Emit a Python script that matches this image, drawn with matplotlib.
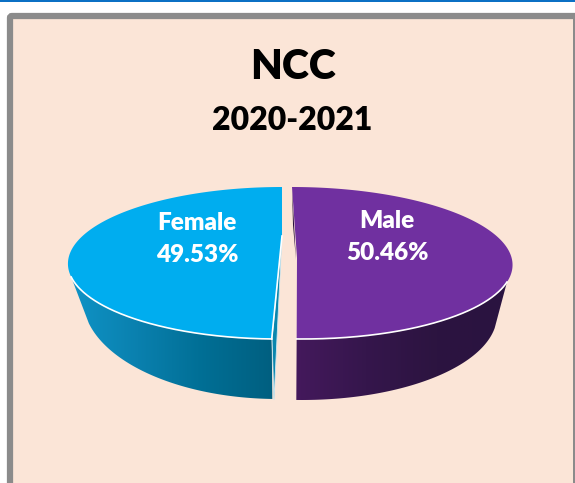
import numpy as np
import matplotlib
matplotlib.use("Agg")
import matplotlib.pyplot as plt
from matplotlib.patches import Polygon, Rectangle, FancyBboxPatch
from matplotlib.colors import LinearSegmentedColormap

plt.rcParams['font.family'] = ['Lato', 'DejaVu Sans']

title = "NCC"
subtitle = "2020-2021"
labels = ["Female", "Male"]
shares = [49.53, 50.46]
top_colors = ["#00adef", "#7030a0"]
side_colors = [["#0f93c6", "#0a80ae", "#006e94", "#005f80"], ["#44195c", "#35164c", "#2c1440", "#2a1340"]]

fig = plt.figure(figsize=(5.75, 4.83), dpi=100)
ax = fig.add_axes([0, 0, 1, 1])
ax.set_xlim(0, 575)
ax.set_ylim(483, 0)
ax.axis("off")

# page and frame
ax.add_patch(Rectangle((0, 0), 575, 2, fc="#0b70c4", ec="none"))
ax.add_patch(FancyBboxPatch((10, 16), 600, 600, boxstyle="round,pad=0,rounding_size=2",
                            fc="#fbe5d7", ec="#8b8b8b", lw=4.5))
ax.add_patch(Rectangle((572.5, 14), 3, 470, fc="#8b8b8b", ec="none"))

ax.text(293, 67, title, ha="center", va="center", fontsize=29.5, fontweight="heavy", color="black")
ax.text(292.5, 120, subtitle, ha="center", va="center", fontsize=23, fontweight="heavy", color="black")


def arc(a0, a1, cx, cy, rx, ry, shear, y0):
    t = np.radians(np.linspace(a0, a1, 200))
    x = cx + rx * np.cos(t)
    y = cy - ry * np.sin(t)
    return np.column_stack([x + shear * (y - y0), y])


def gradient_side(poly, colors):
    cmap = LinearSegmentedColormap.from_list("side", colors)
    patch = Polygon(poly, closed=True, fc="none", ec="none")
    ax.add_patch(patch)
    xs = poly[:, 0]
    im = ax.imshow(np.linspace(0, 1, 256)[None, :], cmap=cmap, aspect="auto",
                   extent=[xs.min(), xs.max(), poly[:, 1].max(), poly[:, 1].min()], zorder=2)
    im.set_clip_path(patch)
    ax.set_xlim(0, 575)
    ax.set_ylim(483, 0)


# female slice, sweep comes from its share
sweep_f = 360 * shares[0] / sum(shares)
top_f = arc(90, 90 + sweep_f, 282, 263, 212, 76, -0.027, 187)
front_f = arc(190.6, 90 + sweep_f, 282, 263, 212, 76, -0.027, 187)
low_f = arc(194, 90 + sweep_f, 278, 299, 195, 100, 0.0, 187)
side_f = np.vstack([front_f, low_f[::-1]])
gradient_side(side_f, side_colors[0])
ax.add_patch(Polygon(np.array([[282, 235], [274, 400], [272, 338]]), closed=True,
                     fc="#0a86ad", ec="#cfe8f2", lw=0.6, zorder=2.5))
ax.add_patch(Polygon(np.vstack([top_f, [[282, 236]]]), closed=True, fc=top_colors[0], ec="none", zorder=3))
ax.plot(front_f[:, 0], front_f[:, 1], color="white", lw=1.2, zorder=3.5)
ax.plot([front_f[-1, 0], 282], [front_f[-1, 1], 236], color="white", lw=1.2, zorder=3.5)

# male slice
sweep_m = 360 * shares[1] / sum(shares)
top_m = arc(90, 90 - sweep_m, 292, 263, 215, 76, 0.072, 187)
front_m = arc(-14.5, 90 - sweep_m, 292, 263, 215, 76, 0.072, 187)
low_m = arc(-8.8, 90 - sweep_m, 302, 315, 195, 85, 0.0, 187)
side_m = np.vstack([front_m, low_m[::-1]])
gradient_side(side_m, side_colors[1])
ax.add_patch(Polygon(np.array([[292, 187], [296, 260], [293, 225]]), closed=True,
                     fc="#2a123c", ec="none", zorder=2.5))
ax.add_patch(Polygon(np.vstack([top_m, [[297, 258]]]), closed=True, fc=top_colors[1], ec="none", zorder=3))
ax.plot(front_m[:, 0], front_m[:, 1], color="white", lw=1.2, zorder=3.5)

label_pos = [(197, 239), (387, 237)]
for name, val, (lx, ly) in zip(labels, shares, label_pos):
    ax.text(lx, ly, f"{name}\n{val:.2f}%", ha="center", va="center", color="white",
            fontsize=17.5, fontweight="heavy", linespacing=1.6, zorder=4)

fig.savefig("out.png", dpi=100)
